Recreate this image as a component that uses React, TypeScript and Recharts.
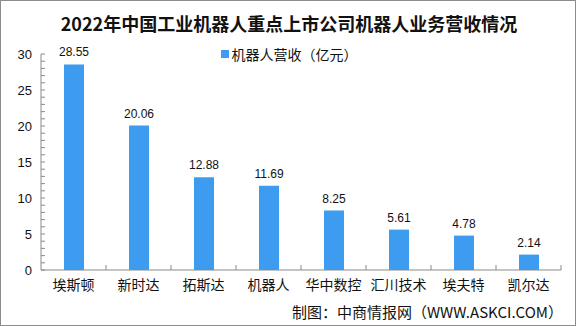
import { BarChart, Bar, XAxis, YAxis, LabelList } from 'recharts'

const companies = ['埃斯顿', '新时达', '拓斯达', '机器人', '华中数控', '汇川技术', '埃夫特', '凯尔达']
const revenue = [28.55, 20.06, 12.88, 11.69, 8.25, 5.61, 4.78, 2.14]
const majorTicks = [0, 5, 10, 15, 20, 25, 30]
const minorTicks = Array.from({ length: 31 }, (_, i) => i)

const seriesName = '机器人营收（亿元）'
const title = '2022年中国工业机器人重点上市公司机器人业务营收情况'
const source = '制图：中商情报网（WWW.ASKCI.COM）'

const BAR_COLOR = '#3d9cf0'
const AXIS_COLOR = '#8a8a8a'
const W = 576
const H = 326
const margin = { top: 54, right: 15, left: 0, bottom: 26 }
const Y_W = 41
const STEP = (W - margin.left - margin.right - Y_W) / companies.length

const data = companies.map((name, i) => ({ name, value: revenue[i] }))

function YTick(props: any) {
  const { x, y, payload } = props
  const isMajor = majorTicks.includes(payload.value)
  return (
    <g>
      <line x1={x} x2={x + 4} y1={y} y2={y} stroke={AXIS_COLOR} />
      {isMajor && (
        <text x={x - 9} y={y} dy={4.5} textAnchor="end" fontSize={13} fill="#111"
          fontFamily="'Liberation Sans', Arial, sans-serif">
          {payload.value}
        </text>
      )}
    </g>
  )
}

function XTick(props: any) {
  const { x, y, payload, index, visibleTicksCount } = props
  const last = index === visibleTicksCount - 1
  return (
    <g>
      {index > 0 && <line x1={x - STEP / 2} x2={x - STEP / 2} y1={y} y2={y - 5} stroke={AXIS_COLOR} />}
      {last && <line x1={x + STEP / 2} x2={x + STEP / 2} y1={y} y2={y - 5} stroke={AXIS_COLOR} />}
      <text x={x} y={y} dy={20} textAnchor="middle" fontSize={14} fill="#111"
        fontFamily="'Noto Sans CJK SC', sans-serif">
        {payload.value}
      </text>
    </g>
  )
}

export default function App() {
  return (
    <div style={{ position: 'absolute', left: 0, top: 0, width: W, height: H, background: '#fff',
      border: '1px solid #8c8c8c', boxSizing: 'border-box', overflow: 'hidden' }}>
      <div style={{ position: 'absolute', left: 0, top: 9, width: W, textAlign: 'center', fontSize: 18,
        fontWeight: 'bold', fontFamily: "'Noto Sans CJK SC', serif", color: '#111', lineHeight: '26px' }}>
        {title}
      </div>
      <div style={{ position: 'absolute', top: -1, left: -1 }}>
        <BarChart width={W} height={H} data={data} margin={margin}>
          <YAxis domain={[0, 30]} ticks={minorTicks} interval={0} width={Y_W}
            tickLine={false} tickSize={0} tickMargin={0} tick={<YTick />}
            axisLine={{ stroke: AXIS_COLOR }} />
          <XAxis dataKey="name" interval={0} height={30} tickLine={false} tickSize={0} tickMargin={0}
            tick={<XTick />} axisLine={{ stroke: AXIS_COLOR }} />
          <Bar dataKey="value" name={seriesName} fill={BAR_COLOR} barSize={20} isAnimationActive={false}>
            <LabelList dataKey="value" position="top" offset={8} fontSize={12} fill="#111"
              fontFamily="'Liberation Sans', Arial, sans-serif" formatter={(v: any) => Number(v).toFixed(2)} />
          </Bar>
        </BarChart>
      </div>
      <div style={{ position: 'absolute', left: 0, top: 43, width: W, display: 'flex', justifyContent: 'center',
        alignItems: 'center', fontSize: 14, fontFamily: "'Noto Sans CJK SC', sans-serif", color: '#111',
        lineHeight: '20px' }}>
        <span style={{ width: 8, height: 8, background: BAR_COLOR, marginRight: 3, display: 'inline-block' }} />
        <span>{seriesName}</span>
      </div>
      <div style={{ position: 'absolute', right: 12, top: 301, fontSize: 15, color: '#111',
        fontFamily: "'Noto Sans CJK SC', sans-serif", lineHeight: '20px' }}>
        {source}
      </div>
    </div>
  )
}
